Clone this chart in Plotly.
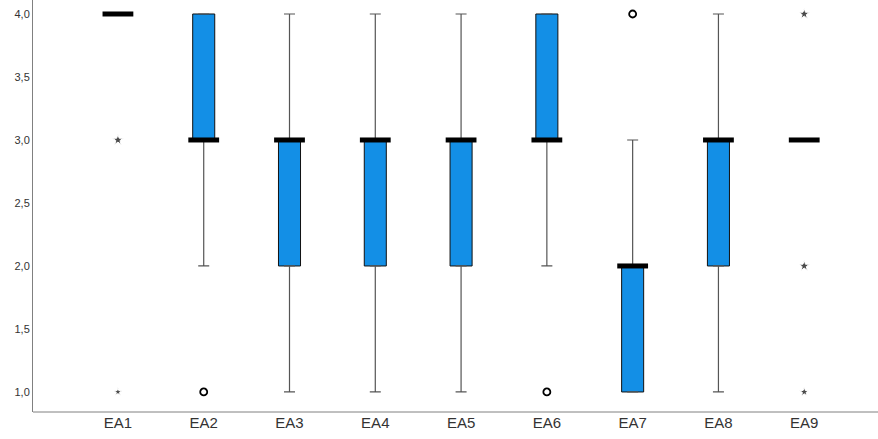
import plotly.graph_objects as go

categories = ["EA1", "EA2", "EA3", "EA4", "EA5", "EA6", "EA7", "EA8", "EA9"]
q1 = [4, 3, 2, 2, 2, 3, 1, 2, 3]
median = [4, 3, 3, 3, 3, 3, 2, 3, 3]
q3 = [4, 4, 3, 3, 3, 4, 2, 3, 3]
lower_whisker = [4, 2, 1, 1, 1, 2, 1, 1, 3]
upper_whisker = [4, 4, 4, 4, 4, 4, 3, 4, 3]

# outliers (circles) and extremes (stars)
outlier_cat = ["EA2", "EA6", "EA7"]
outlier_val = [1, 1, 4]
extreme_cat = ["EA1", "EA1", "EA9", "EA9", "EA9"]
extreme_val = [3, 1, 4, 2, 1]
extreme_size = [8, 6, 8, 8, 7]

y_ticks = [1.0, 1.5, 2.0, 2.5, 3.0, 3.5, 4.0]

box_w = 0.257
fill = "#138FE6"
whisk = "#555555"

fig = go.Figure()

# whiskers via error bars
up_len = [u - t for u, t in zip(upper_whisker, q3)]
lo_len = [b - l for b, l in zip(q1, lower_whisker)]
fig.add_trace(go.Scatter(
    x=categories, y=q3, mode="markers", marker=dict(size=0.1, color="rgba(0,0,0,0)"),
    error_y=dict(type="data", symmetric=False, array=up_len, arrayminus=[0]*9,
                 color=whisk, thickness=1.2, width=5.5, visible=True),
    hoverinfo="skip", showlegend=False, cliponaxis=False))
fig.add_trace(go.Scatter(
    x=categories, y=q1, mode="markers", marker=dict(size=0.1, color="rgba(0,0,0,0)"),
    error_y=dict(type="data", symmetric=False, array=[0]*9, arrayminus=lo_len,
                 color=whisk, thickness=1.2, width=5.5, visible=True),
    hoverinfo="skip", showlegend=False, cliponaxis=False))

# box bodies
fig.add_trace(go.Bar(
    x=categories, y=[t - b for t, b in zip(q3, q1)], base=q1, width=box_w,
    marker=dict(color=fill, line=dict(color="#111111", width=1)),
    hoverinfo="skip", showlegend=False))

# medians (thick)
fig.add_trace(go.Scatter(
    x=categories, y=median, mode="markers",
    marker=dict(symbol="line-ew", size=22, line=dict(color="#000000", width=5)),
    hoverinfo="skip", showlegend=False, cliponaxis=False))

# outliers
fig.add_trace(go.Scatter(
    x=outlier_cat, y=outlier_val, mode="markers",
    marker=dict(symbol="circle-open", size=7, color="#000000", line=dict(width=1.8)),
    hoverinfo="skip", showlegend=False, cliponaxis=False))
fig.add_trace(go.Scatter(
    x=extreme_cat, y=extreme_val, mode="markers",
    marker=dict(symbol="star", size=extreme_size, color="#000000"),
    hoverinfo="skip", showlegend=False, cliponaxis=False))

fig.update_layout(
    width=878, height=439,
    margin=dict(l=33, r=0, t=0, b=27),
    paper_bgcolor="white", plot_bgcolor="white",
    separators=", ",
    font=dict(family="Liberation Sans, Arial, sans-serif", color="#333333"),
    barmode="overlay",
    shapes=[dict(type="line", xref="paper", yref="paper", x0=0, x1=1.02, y0=0, y1=0,
                 line=dict(color="#808080", width=1), layer="above")],
)
fig.update_xaxes(
    type="category", categoryorder="array", categoryarray=categories,
    range=[-0.99, 8.86], showgrid=False, zeroline=False,
    showline=False, ticks="",
    tickfont=dict(size=15, color="#333333"),
)
fig.update_yaxes(
    range=[0.841, 4.111], tickvals=y_ticks, tickformat=".1f",
    showgrid=False, zeroline=False, showline=True, linecolor="#808080",
    linewidth=1, ticks="", tickfont=dict(size=11, color="#333333"),
)

fig.write_html(
    "out.html",
    config={"displayModeBar": False},
    post_script="document.body.style.margin='0';document.body.style.overflow='hidden';",
)
